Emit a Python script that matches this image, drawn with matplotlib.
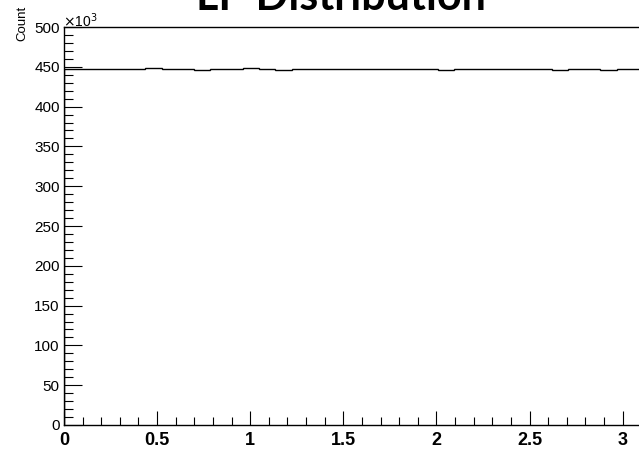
import numpy as np
import matplotlib.pyplot as plt
from matplotlib.ticker import MultipleLocator, FuncFormatter

# 36 bins over [0, pi]
n_bins = 36
counts = [447000, 447000, 447000, 447000, 447000, 448200,
          447000, 447000, 445800, 447000, 447000, 448200,
          447000, 445800, 447000, 447000, 447000, 447000,
          447000, 447000, 447000, 447000, 447000, 445800,
          447000, 447000, 447000, 447000, 447000, 447000,
          445800, 447000, 447000, 445800, 447000, 447000]
edges = np.linspace(0, np.pi, n_bins + 1)

W, H = 639, 463
fig = plt.figure(figsize=(W / 100, H / 100), dpi=100)
# frame runs past the right edge of the canvas, like the cropped ROOT pad
ax = fig.add_axes([64 / W, (H - 425) / H, 585 / W, 398 / H])

ax.stairs(counts, edges, color='black', linewidth=1.0)

ax.set_xlim(0, np.pi)
ax.set_ylim(0, 500000)

ax.xaxis.set_major_locator(MultipleLocator(0.5))
ax.xaxis.set_minor_locator(MultipleLocator(0.1))
ax.yaxis.set_major_locator(MultipleLocator(50000))
ax.yaxis.set_minor_locator(MultipleLocator(10000))
ax.yaxis.set_major_formatter(FuncFormatter(lambda v, p: f"{v / 1000:g}"))
ax.xaxis.set_major_formatter(FuncFormatter(lambda v, p: f"{v:g}"))

ax.tick_params(axis='y', which='major', direction='in', length=13, width=0.8,
               labelsize=11, pad=3, right=False)
ax.tick_params(axis='y', which='minor', direction='in', length=6.5, width=0.8,
               right=False)
ax.tick_params(axis='x', which='major', direction='in', length=10, width=0.8,
               labelsize=13, pad=5, top=False)
ax.tick_params(axis='x', which='minor', direction='in', length=5.8, width=0.8,
               top=False)
for lab in ax.get_xticklabels():
    lab.set_fontweight('bold')
for lab in ax.get_xticklabels() + ax.get_yticklabels():
    lab.set_family('Liberation Sans')

for s in ax.spines.values():
    s.set_linewidth(1.0)

# exponent marker and axis titles
fig.text(63 / W, 1 - 27 / H, r"$\times$10$^{3}$", fontsize=10,
         family='Liberation Sans', va='baseline', ha='left')
fig.text(22 / W, 1 - 23 / H, "Count", rotation=90, fontsize=9.5,
         family='Liberation Sans', va='center', ha='center')
ax.text(1.0, -0.075, "φ", transform=ax.transAxes, fontsize=12,
        family='Liberation Sans', ha='right', va='center')

fig.text(340.5 / W, 1 - 10.5 / H, "LP Distribution", fontsize=31,
         fontweight='bold', family=['Lato', 'DejaVu Sans'],
         ha='center', va='baseline')

fig.savefig('out.png', dpi=100)
